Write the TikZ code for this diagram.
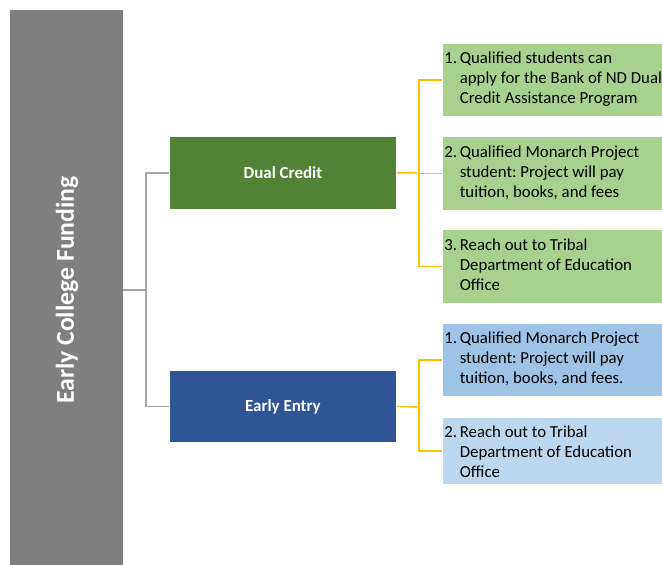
\documentclass[tikz,border=0pt]{standalone}
\usepackage{fontspec}
\setmainfont{Carlito}
\frenchspacing
\definecolor{bargray}{HTML}{7F7F7F}
\definecolor{lingray}{HTML}{A5A5A5}
\definecolor{linyel}{HTML}{FFC000}
\definecolor{dgreen}{HTML}{548235}
\definecolor{dblue}{HTML}{2F5597}
\definecolor{lgreen}{HTML}{A9D18E}
\definecolor{lblue1}{HTML}{9DC3E6}
\definecolor{lblue2}{HTML}{BDD7EE}
\tikzset{
  box/.style={draw=white, line width=0.6pt, inner sep=0pt},
  midbox/.style={box, text=white, font=\fontsize{12.7}{15}\selectfont\bfseries},
  leafbox/.style={box},
  leaftext/.style={inner sep=0pt, anchor=west, text=black, font=\fontsize{12.6}{15}\selectfont},
  gline/.style={draw=lingray, line width=1.1pt},
  yline/.style={draw=linyel, line width=1.1pt},
}
\newcommand{\itm}[2]{\begin{tabular}{@{}l@{\,}l@{}}#1 & #2\end{tabular}}
\begin{document}
\begin{tikzpicture}[x=0.75pt,y=-0.75pt]
\useasboundingbox (0,0) rectangle (662,565);
% root bar
\fill[bargray] (10,10) rectangle (123,565);
\node (root) [rotate=90, text=white, font=\fontsize{19.3}{22}\selectfont\bfseries] at (67,290) {Early College Funding};
\coordinate (rootR) at (123,290);
% middle boxes
\node (dc) [midbox, fill=dgreen, minimum width=227*0.75pt, minimum height=73*0.75pt, anchor=north west] at (169,136) {Dual Credit};
\node (ee) [midbox, fill=dblue, minimum width=227*0.75pt, minimum height=72*0.75pt, anchor=north west] at (169,370) {Early Entry};
% leaf boxes
\node (g1) [leafbox, fill=lgreen, minimum width=222*0.75pt, minimum height=73*0.75pt, anchor=north west] at (442,43) {};
\node (g2) [leafbox, fill=lgreen, minimum width=222*0.75pt, minimum height=74*0.75pt, anchor=north west] at (442,136) {};
\node (g3) [leafbox, fill=lgreen, minimum width=222*0.75pt, minimum height=74*0.75pt, anchor=north west] at (442,229) {};
\node (b1) [leafbox, fill=lblue1, minimum width=222*0.75pt, minimum height=73*0.75pt, anchor=north west] at (442,323) {};
\node (b2) [leafbox, fill=lblue2, minimum width=222*0.75pt, minimum height=67*0.75pt, anchor=north west] at (442,417) {};
% leaf texts
\node (t1) [leaftext] at (444,79.5) {\itm{1.}{Qualified students can\\ & apply for the Bank of ND Dual\\ & Credit Assistance Program}};
\node (t2) [leaftext] at (444,173) {\itm{2.}{Qualified Monarch Project\\ & student: Project will pay\\ & tuition, books, and fees}};
\node (t3) [leaftext] at (444,266) {\itm{3.}{Reach out to Tribal\\ & Department of Education\\ & Office}};
\node (t4) [leaftext] at (444,359.5) {\itm{1.}{Qualified Monarch Project\\ & student: Project will pay\\ & tuition, books, and fees.}};
\node (t5) [leaftext] at (444,453) {\itm{2.}{Reach out to Tribal\\ & Department of Education\\ & Office}};
% gray connectors
\draw[gline] (rootR) -- (146,290) |- (dc.west);
\draw[gline] (146,290) |- (ee.west);
% yellow connectors
\draw[yline] (dc.east) -- (419,173);
\draw[yline] (419,173) |- (g1.west);
\draw[yline] (419,173) |- (g2.west);
\draw[yline] (419,173) |- (g3.west);
\draw[yline] (ee.east) -- (419,407);
\draw[yline] (419,407) |- (b1.west);
\draw[yline] (419,407) |- (b2.west);
\end{tikzpicture}
\end{document}
